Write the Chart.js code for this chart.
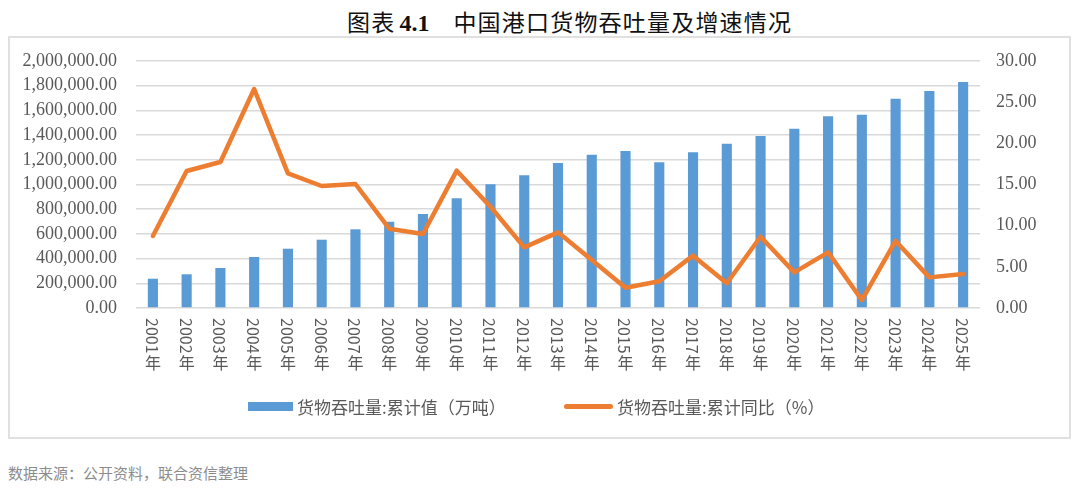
<!DOCTYPE html>
<html>
<head>
<meta charset="utf-8">
<script src="https://cdn.jsdelivr.net/npm/chart.js@4.4.1/dist/chart.umd.min.js"></script>
<style>
  html, body { margin: 0; padding: 0; background: #fff; }
  body { width: 1080px; height: 489px; position: relative; overflow: hidden; }
  #title {
    position: absolute; left: 347px; top: 4px; white-space: nowrap;
    font-family: "Noto Sans CJK SC", sans-serif; font-size: 23px; color: #111;
    letter-spacing: 1.2px;
  }
  #title b { font-family: "Liberation Serif", serif; font-size: 24px; letter-spacing: 0; margin: 0 24px 0 4px; }
  #box {
    position: absolute; left: 8px; top: 36px; width: 1059px; height: 399px;
    border: 2px solid #e0e0e0;
  }
  #chart-wrap { position: absolute; left: 0; top: 0; width: 1059px; height: 399px; }
  .leg {
    position: absolute; top: 395px; white-space: nowrap;
    font-family: "Noto Sans CJK SC", sans-serif; font-size: 17px; color: #595959; line-height: 24px;
  }
  .leg i { position: absolute; display: block; }
  #source {
    position: absolute; left: 8px; top: 462px; white-space: nowrap;
    font-family: "Noto Sans CJK SC", sans-serif; font-size: 15px; color: #8c8c8c;
  }
</style>
</head>
<body>
<div id="title">图表<b>4.1</b>中国港口货物吞吐量及增速情况</div>
<div id="box"><div id="chart-wrap"><canvas id="chart"></canvas></div></div>
<div id="legend"></div>
<div id="source">数据来源：公开资料，联合资信整理</div>

<script>
// ── DONNEES ──
const years = ["2001年", "2002年", "2003年", "2004年", "2005年", "2006年", "2007年", "2008年", "2009年",
               "2010年", "2011年", "2012年", "2013年", "2014年", "2015年", "2016年", "2017年", "2018年",
               "2019年", "2020年", "2021年", "2022年", "2023年", "2024年", "2025年"];

// 货物吞吐量:累计值（万吨）
const throughput = [237000, 273000, 324000, 413000, 480000, 553000, 637000, 699000, 761000,
                    888000, 1002000, 1074000, 1174000, 1241000, 1271000, 1180000, 1261000, 1330000,
                    1393000, 1452000, 1552000, 1565000, 1695000, 1757000, 1830000];

// 货物吞吐量:累计同比（%）
const growth = [8.75, 16.64, 17.73, 26.6, 16.36, 14.82, 15.06, 9.63, 8.99,
                16.68, 12.3, 7.37, 9.19, 5.83, 2.47, 3.24, 6.36, 3.0,
                8.66, 4.33, 6.76, 0.97, 8.14, 3.72, 4.13];

const leftTicks  = { min: 0, max: 2000000, step: 200000 };
const rightTicks = { min: 0, max: 30, step: 5 };

const BLUE   = "#5B9BD5";
const ORANGE = "#ED7D31";
const GREY   = "#595959";

// ── LEGENDE ──
const legendItems = [
    { text: "货物吞吐量:累计值（万吨）", color: BLUE,   left: 248, w: 45, top: 7, h: 9 },
    { text: "货物吞吐量:累计同比（%）", color: ORANGE, left: 564, w: 49, top: 9, h: 5 }
];
document.getElementById("legend").innerHTML = legendItems.map(it => `
    <div class="leg" style="left:${it.left}px; padding-left:${it.w + 4}px">
        <i style="left:0; top:${it.top}px; width:${it.w}px; height:${it.h}px; background:${it.color}; border-radius:${it.h < 9 ? 3 : 0}px"></i>${it.text}
    </div>`).join("");

// ── LABELS X VERTICAUX ──
const verticalLabels = {
    id: "verticalLabels",
    afterDraw(chart) {
        const xs  = chart.scales.x;
        const ctx = chart.ctx;
        ctx.save();
        ctx.fillStyle = GREY;
        ctx.font = '16px "Noto Sans CJK SC"';
        xs.ticks.forEach((t, i) => {
            const label  = years[i];
            const digits = label.slice(0, -1);
            const x  = xs.getPixelForTick(i);
            const y0 = xs.top + 10;
            ctx.save();
            ctx.translate(x, y0);
            ctx.rotate(Math.PI / 2);
            ctx.textAlign = "left";
            ctx.textBaseline = "middle";
            ctx.fillText(digits, 0, 1);
            const w = ctx.measureText(digits).width;
            ctx.restore();
            ctx.textAlign = "center";
            ctx.textBaseline = "top";
            ctx.fillText(label.slice(-1), x, y0 + w + 1);
        });
        ctx.restore();
    }
};

const fmt = v => Number(v).toLocaleString("en-US", { minimumFractionDigits: 2, maximumFractionDigits: 2 });

const fitY = w => s => { s.width = w; s.paddingTop = 0; s.paddingBottom = 0; };

new Chart(document.getElementById("chart"), {
    data: {
        labels: years,
        datasets: [
            {
                type: "bar",
                label: "货物吞吐量:累计值（万吨）",
                data: throughput,
                backgroundColor: BLUE,
                borderWidth: 0,
                barPercentage: 0.3,
                categoryPercentage: 1,
                yAxisID: "y",
                order: 1
            },
            {
                type: "line",
                label: "货物吞吐量:累计同比（%）",
                data: growth,
                borderColor: ORANGE,
                backgroundColor: ORANGE,
                borderWidth: 4.5,
                pointRadius: 0,
                tension: 0,
                borderJoinStyle: "round",
                borderCapStyle: "round",
                yAxisID: "y1",
                order: 0
            }
        ]
    },
    options: {
        responsive: true,
        maintainAspectRatio: false,
        animation: false,
        layout: { padding: { top: 23, bottom: 59 } },
        scales: {
            x: {
                grid: { display: false, drawTicks: false },
                border: { display: false },
                ticks: { display: false },
                afterFit: s => { s.height = 70; }
            },
            y: {
                position: "left",
                min: leftTicks.min, max: leftTicks.max,
                ticks: {
                    stepSize: leftTicks.step,
                    autoSkip: false,
                    color: GREY,
                    padding: 19,
                    font: { family: "Liberation Serif", size: 18 },
                    callback: v => fmt(v)
                },
                grid: { color: "#d9d9d9", lineWidth: 1.5, drawTicks: false },
                border: { display: false },
                afterFit: fitY(126)
            },
            y1: {
                position: "right",
                min: rightTicks.min, max: rightTicks.max,
                ticks: {
                    stepSize: rightTicks.step,
                    autoSkip: false,
                    color: GREY,
                    padding: 16,
                    font: { family: "Liberation Serif", size: 18 },
                    callback: v => fmt(v)
                },
                grid: { display: false, drawTicks: false },
                border: { display: false },
                afterFit: fitY(89)
            }
        },
        plugins: {
            tooltip: { enabled: false },
            legend: { display: false }
        }
    },
    plugins: [verticalLabels]
});
</script>
</body>
</html>
